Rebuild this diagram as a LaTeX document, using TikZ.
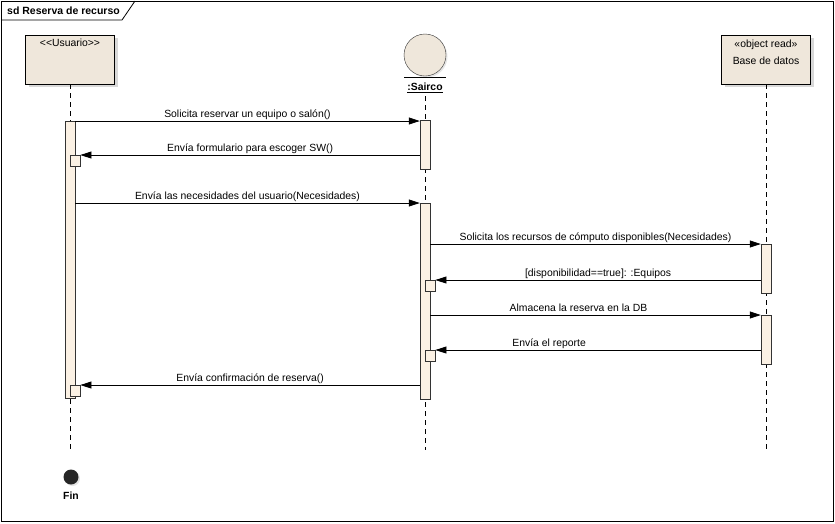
\documentclass[tikz,border=0pt]{standalone}
\usepackage{fontspec}
\setmainfont{Liberation Sans}
\usetikzlibrary{arrows.meta,shadows,positioning}

\definecolor{caja}{RGB}{239,231,219}
\definecolor{activa}{RGB}{251,241,228}

\tikzset{
  objeto/.style={draw=black, fill=caja, minimum width=89pt, minimum height=49pt,
    inner sep=0pt, drop shadow={shadow xshift=3pt, shadow yshift=-3pt, fill=black!30}},
  activacion/.style={draw=black!80, fill=activa, minimum width=10pt, inner sep=0pt, anchor=north},
  propia/.style={draw=black!80, fill=activa, minimum width=10pt, minimum height=11pt,
    inner sep=0pt, anchor=north west},
  vida/.style={black, line width=0.8pt, dash pattern=on 5pt off 4pt},
  mensaje/.style={line width=0.8pt, -{Triangle[length=11pt,width=7pt]}},
  etiqueta/.style={font=\fontsize{10.4}{12}\selectfont, inner sep=0pt, anchor=base, yshift=4pt},
  texto/.style={font=\fontsize{10.4}{12}\selectfont, inner sep=0pt}
}

\begin{document}
\begin{tikzpicture}[x=1pt,y=-1pt]
    \useasboundingbox (0,0) rectangle (835,523);

    % Marco del diagrama
    \draw[line width=0.8pt] (1,1) rectangle (833,521);
    \node[anchor=west, font=\fontsize{10.5}{12}\selectfont\bfseries, inner sep=0pt] (titulo) at (7,11) {sd Reserva de recurso};
    \draw[line width=0.8pt] (1,20) -- (122,20) -- (135,1);

    % Objetos
    \node[objeto] (U) at (70,59.5) {};
    \node[texto, below=4pt of U.north] (tU) {<\kern0pt<Usuario>\kern0pt>};

    \node[draw=black!80, fill=caja, circle, minimum size=42pt, inner sep=0pt,
      drop shadow={shadow xshift=1.5pt, shadow yshift=-1.5pt, fill=black!20}] (S) at (425,55) {};
    \draw[line width=0.8pt] (404,77) -- (446,77);
    \node[texto, font=\fontsize{10.4}{12}\selectfont\bfseries] (tS) at (425,88) {\underline{:Sairco}};

    \node[objeto] (D) at (766,59.5) {};
    \node[texto, align=center, font=\fontsize{10.4}{17}\selectfont, below=5pt of D.north] (tD) {«object read»\\Base de datos};

    % Lineas de vida
    \coordinate (finU) at (70,450);
    \coordinate (iniS) at (425,96);
    \coordinate (finS) at (425,450);
    \coordinate (finD) at (766,450);
    \draw[vida] (U.south) -- (finU);
    \draw[vida] (iniS) -- (finS);
    \draw[vida] (D.south) -- (finD);

    % Activaciones
    \node[activacion, minimum height=277pt] (aU) at (70,121) {};
    \node[activacion, minimum height=49pt] (aS1) at (425,120) {};
    \node[activacion, minimum height=196pt] (aS2) at (425,203) {};
    \node[activacion, minimum height=49pt] (aD1) at (766,244) {};
    \node[activacion, minimum height=49pt] (aD2) at (766,315) {};

    % Llamadas propias
    \node[propia] (pU1) at (70,155) {};
    \node[propia] (pS1) at (425,280) {};
    \node[propia] (pS2) at (425,350) {};
    \node[propia] (pU2) at (70,385) {};

    % Mensajes
    \draw[mensaje] (aU.east |- 0,121) -- (aS1.west |- 0,121)
      node[etiqueta, midway] (m1) {Solicita reservar un equipo o salón()};
    \draw[mensaje] (aS1.west |- pU1.north) -- (pU1.north east)
      node[etiqueta, midway] (m2) {Envía formulario para escoger SW()};
    \draw[mensaje] (aU.east |- aS2.north) -- (aS2.north west)
      node[etiqueta, midway] (m3) {Envía las necesidades del usuario(Necesidades)};
    \draw[mensaje] (aS2.east |- aD1.north) -- (aD1.north west)
      node[etiqueta, midway] (m4) {Solicita los recursos de cómputo disponibles(Necesidades)};
    \draw[mensaje] (aD1.west |- pS1.north) -- (pS1.north east)
      node[etiqueta, midway] (m5) {[disponibilidad==true]: :Equipos};
    \draw[mensaje] (aS2.east |- aD2.north) -- (aD2.north west)
      node[etiqueta, midway, xshift=-17pt] (m6) {Almacena la reserva en la DB};
    \draw[mensaje] (aD2.west |- pS2.north) -- (pS2.north east)
      node[etiqueta, midway, xshift=-49pt] (m7) {Envía el reporte};
    \draw[mensaje] (aS2.west |- pU2.north) -- (pU2.north east)
      node[etiqueta, midway] (m8) {Envía confirmación de reserva()};

    % Fin
    \node[circle, fill=black!85, minimum size=15pt, inner sep=0pt,
      drop shadow={shadow xshift=1.5pt, shadow yshift=-1.5pt, fill=black!20}] (fin) at (71,477) {};
    \node[texto, font=\fontsize{10.4}{12}\selectfont\bfseries, below=7pt of fin.south] (tFin) {Fin};
\end{tikzpicture}
\end{document}
